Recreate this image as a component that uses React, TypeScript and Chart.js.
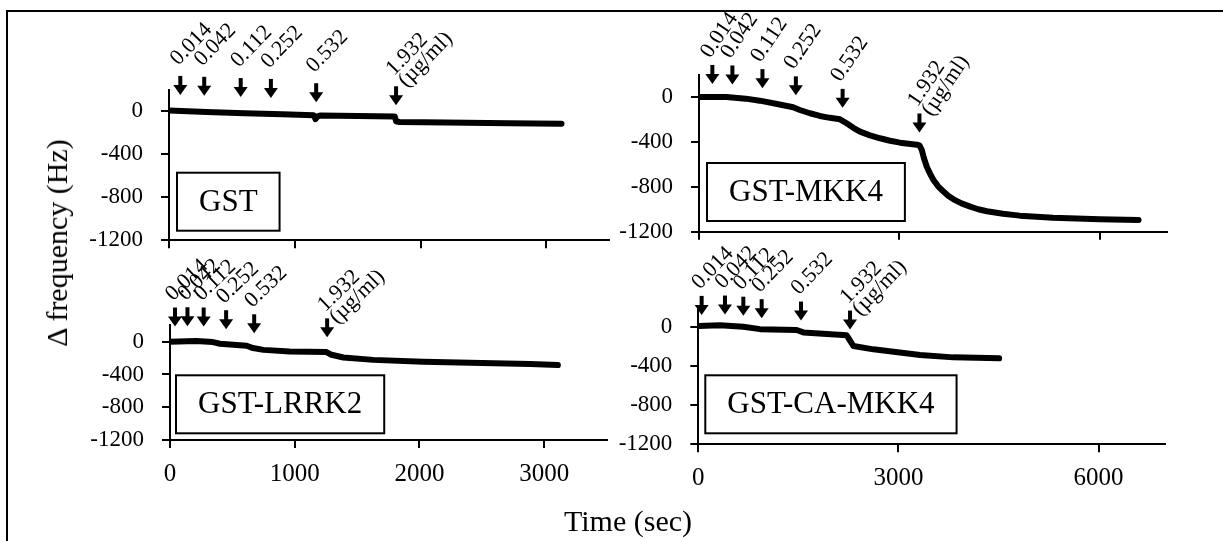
import React, { useEffect, useRef } from 'react';
import { Chart, registerables } from 'chart.js';

Chart.register(...registerables);

const FONT = '"Liberation Serif", "Times New Roman", Times, serif';

// ---- data (time in sec, Δ frequency in Hz) ----
const gstTime = [0, 300, 600, 900, 1150, 1165, 1180, 1200, 1500, 1795, 1805, 1830, 2200, 2700, 3120];
const gstFreq = [5, -8, -20, -30, -38, -75, -50, -42, -45, -50, -95, -102, -107, -113, -118];

const mkk4Time = [0, 200, 410, 700, 910, 1150, 1410, 1510, 1660, 1810, 1960, 2110, 2210, 2310, 2410, 2560, 2710, 2860, 3010, 3260, 3300, 3335, 3370, 3410, 3460, 3510, 3580, 3660, 3730, 3810, 3930, 4060, 4180, 4310, 4550, 4800, 5300, 6000, 6580];
const mkk4Freq = [0, 0, 0, -15, -33, -60, -92, -116, -145, -169, -186, -199, -234, -275, -309, -342, -368, -390, -407, -425, -432, -472, -550, -621, -685, -739, -796, -843, -880, -912, -948, -977, -1000, -1018, -1040, -1057, -1075, -1090, -1095];

const lrrk2Time = [0, 210, 345, 400, 615, 665, 750, 960, 1255, 1295, 1390, 1630, 2030, 2500, 2890, 3110];
const lrrk2Freq = [0, 8, -5, -25, -50, -78, -100, -120, -126, -160, -193, -222, -244, -260, -273, -285];

const caMkk4Time = [0, 325, 675, 925, 1475, 1575, 2225, 2270, 2325, 2625, 3325, 3825, 4510];
const caMkk4Freq = [7, 15, 0, -25, -34, -58, -88, -136, -197, -231, -289, -313, -323];

// injection times (sec)
const gstInject = [90, 280, 570, 810, 1170, 1805];
const mkk4Inject = [200, 500, 950, 1450, 2150, 3300];
const lrrk2Inject = [40, 140, 270, 450, 675, 1260];
const caMkk4Inject = [50, 400, 675, 950, 1540, 2275];

const concLabels = ['0.014', '0.042', '0.112', '0.252', '0.532', '1.932'];
const unitLabel = '(µg/ml)';

const yTicks = [0, -400, -800, -1200];
const xTicksLeft = [0, 1000, 2000, 3000];
const xTicksRight = [0, 3000, 6000];

const panelNames = ['GST', 'GST-MKK4', 'GST-LRRK2', 'GST-CA-MKK4'];

const yAxisTitle = 'Δ frequency (Hz)';
const xAxisTitle = 'Time (sec)';

// ---- panel layout / style ----
const Y_W = 110;
const panels = [
  {
    name: panelNames[0], time: gstTime, freq: gstFreq, inject: gstInject,
    xMax: 3500, xTicks: xTicksLeft, showX: false,
    canvas: { left: 40, top: 0, width: 600, height: 290 },
    padding: { left: 19, top: 89.5, right: 30.7, bottom: 37.7 }, xH: 12,
    angle: 46, gap: 16, labelDy: 10, boxLeft: 8, boxBottom: 9.6,
  },
  {
    name: panelNames[1], time: mkk4Time, freq: mkk4Freq, inject: mkk4Inject,
    xMax: 7000, xTicks: xTicksRight, showX: false,
    canvas: { left: 570, top: 0, width: 653, height: 290 },
    padding: { left: 19, top: 74.5, right: 56.4, bottom: 46.3 }, xH: 12,
    angle: 56, gap: 13, labelDy: 6, boxLeft: 8, boxBottom: 10.7,
  },
  {
    name: panelNames[2], time: lrrk2Time, freq: lrrk2Freq, inject: lrrk2Inject,
    xMax: 3500, xTicks: xTicksLeft, showX: true,
    canvas: { left: 40, top: 220, width: 600, height: 321 },
    padding: { left: 20, top: 105.3, right: 33.5, bottom: 56 }, xH: 45,
    angle: 44, gap: 15, labelDy: 6, boxLeft: 6, boxBottom: 6.7,
  },
  {
    name: panelNames[3], time: caMkk4Time, freq: caMkk4Freq, inject: caMkk4Inject,
    xMax: 7000, xTicks: xTicksRight, showX: true,
    canvas: { left: 570, top: 220, width: 653, height: 321 },
    padding: { left: 18.3, top: 87.1, right: 57.8, bottom: 51.7 }, xH: 45,
    angle: 46, gap: 11, labelDy: 6, boxLeft: 7, boxBottom: 11,
  },
];

function valueAt(ts: number[], vs: number[], t: number) {
  for (let i = 1; i < ts.length; i++) {
    if (t <= ts[i]) {
      const f = (t - ts[i - 1]) / (ts[i] - ts[i - 1]);
      return vs[i - 1] + f * (vs[i] - vs[i - 1]);
    }
  }
  return vs[vs.length - 1];
}

function makeAnnot(p: any) {
  return {
    id: 'annot',
    afterDraw(chart: any) {
      const { ctx, chartArea } = chart;
      const x = chart.scales.x;
      const y = chart.scales.y;
      ctx.save();
      ctx.fillStyle = '#000';
      ctx.strokeStyle = '#000';
      p.inject.forEach((t: number, i: number) => {
        const px = x.getPixelForValue(t);
        const tip = y.getPixelForValue(valueAt(p.time, p.freq, t)) - p.gap;
        const top = tip - 19;
        ctx.fillRect(px - 2, top, 4, 11);
        ctx.beginPath();
        ctx.moveTo(px - 7, tip - 10);
        ctx.lineTo(px + 7, tip - 10);
        ctx.lineTo(px, tip);
        ctx.closePath();
        ctx.fill();
        ctx.save();
        ctx.translate(px - 2, top - p.labelDy);
        ctx.rotate((-p.angle * Math.PI) / 180);
        ctx.font = `22px ${FONT}`;
        ctx.textAlign = 'left';
        ctx.textBaseline = 'alphabetic';
        ctx.fillText(concLabels[i], 0, 0);
        if (i === concLabels.length - 1) ctx.fillText(unitLabel, 0, 17);
        ctx.restore();
      });
      ctx.font = `31px ${FONT}`;
      const tw = ctx.measureText(p.name).width;
      const bw = tw + 44;
      const bh = 58;
      const bx = chartArea.left + p.boxLeft;
      const by = chartArea.bottom - p.boxBottom - bh;
      ctx.fillStyle = '#fff';
      ctx.fillRect(bx, by, bw, bh);
      ctx.lineWidth = 2;
      ctx.strokeRect(bx, by, bw, bh);
      ctx.fillStyle = '#000';
      ctx.textAlign = 'center';
      ctx.textBaseline = 'middle';
      ctx.fillText(p.name, bx + bw / 2, by + bh / 2 + 1);
      ctx.restore();
    },
  };
}

function Panel({ p }: { p: any }) {
  const ref = useRef<HTMLCanvasElement | null>(null);
  useEffect(() => {
    if (!ref.current) return;
    const chart = new Chart(ref.current, {
      type: 'line',
      data: {
        datasets: [
          {
            data: p.time.map((t: number, i: number) => ({ x: t, y: p.freq[i] })),
            borderColor: '#000',
            borderWidth: 6,
            pointRadius: 0,
            tension: 0,
            fill: false,
            borderCapStyle: 'round',
            borderJoinStyle: 'round',
          },
        ],
      },
      options: {
        animation: false,
        responsive: false,
        maintainAspectRatio: false,
        devicePixelRatio: 1,
        layout: { padding: p.padding },
        plugins: { legend: { display: false }, tooltip: { enabled: false } },
        scales: {
          x: {
            type: 'linear',
            min: 0,
            max: p.xMax,
            afterBuildTicks: (s: any) => { s.ticks = p.xTicks.map((v: number) => ({ value: v })); },
            afterFit: (s: any) => { s.height = p.xH; },
            grid: { display: true, drawOnChartArea: false, drawTicks: true, tickLength: 8, color: '#000', lineWidth: 2 },
            border: { display: true, color: '#000', width: 2 },
            ticks: {
              display: p.showX,
              color: '#000',
              font: { family: FONT, size: 25 },
              padding: 11,
              maxRotation: 0,
              autoSkip: false,
              callback: (v: any) => String(v),
            },
          },
          y: {
            type: 'linear',
            min: -1200,
            max: 200,
            afterBuildTicks: (s: any) => { s.ticks = yTicks.map((v: number) => ({ value: v })); },
            afterFit: (s: any) => { s.width = Y_W; },
            grid: { display: true, drawOnChartArea: false, drawTicks: true, tickLength: 8, color: '#000', lineWidth: 2 },
            border: { display: true, color: '#000', width: 2 },
            ticks: {
              color: '#000', font: { family: FONT, size: 23 }, padding: 18, autoSkip: false,
              callback: (v: any) => String(v),
            },
          },
        },
      } as any,
      plugins: [makeAnnot(p)],
    } as any);
    return () => chart.destroy();
  }, [p]);
  const c = p.canvas;
  return (
    <canvas
      ref={ref}
      width={c.width}
      height={c.height}
      style={{ position: 'absolute', left: c.left, top: c.top, width: c.width, height: c.height }}
    />
  );
}

export default function App() {
  return (
    <div style={{ position: 'fixed', left: 0, top: 0, width: 1223, height: 541, background: '#fff', overflow: 'hidden' }}>
      <div style={{ position: 'absolute', left: 6, top: 10, width: 1400, height: 700, border: '2px solid #000', boxSizing: 'border-box' }} />
      {panels.map((p) => (
        <Panel key={p.name} p={p} />
      ))}
      <div
        style={{
          position: 'absolute', left: 57, top: 243, transform: 'translate(-50%, -50%) rotate(-90deg)',
          whiteSpace: 'nowrap', font: `30px ${FONT}`, lineHeight: 1, color: '#000',
        }}
      >
        {yAxisTitle}
      </div>
      <div
        style={{
          position: 'absolute', left: 628, top: 521, transform: 'translate(-50%, -50%)',
          whiteSpace: 'nowrap', font: `30px ${FONT}`, lineHeight: 1, color: '#000',
        }}
      >
        {xAxisTitle}
      </div>
    </div>
  );
}
